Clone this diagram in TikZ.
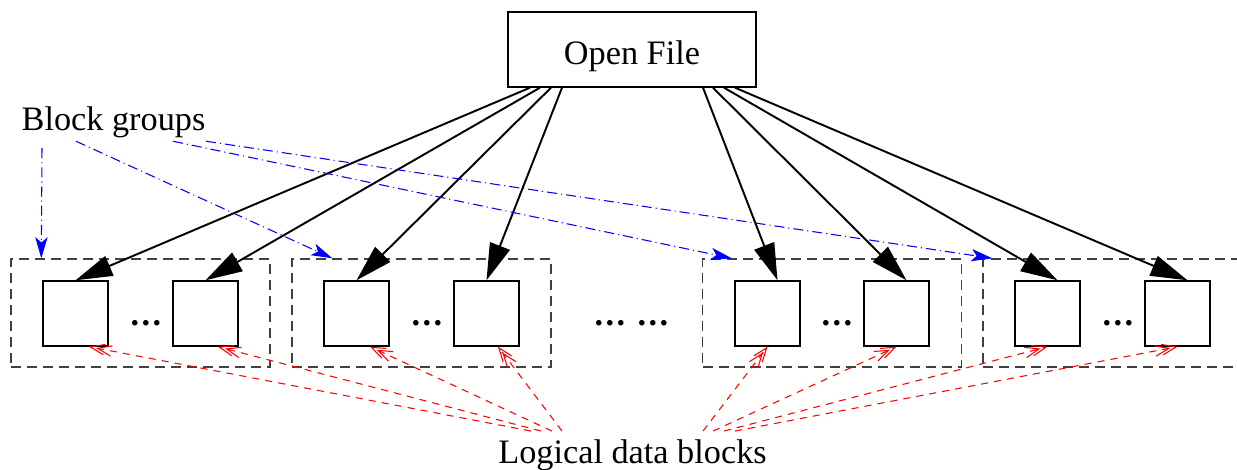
\documentclass[tikz,border=0pt]{standalone}
\usepackage{fontspec}
\setmainfont{Liberation Serif}
\usetikzlibrary{arrows.meta}
\newcommand{\bdots}{\textbf{.\kern1.4pt.\kern1.4pt.}}

\begin{document}
\begin{tikzpicture}[
  font=\fontsize{19.5}{23}\selectfont,
  lbl/.style={inner sep=0pt},
  filebox/.style={draw, line width=0.8pt, minimum width=4.96cm, minimum height=1.5cm,
    text height=0.6cm, text depth=0cm},
  blk/.style={draw, line width=0.8pt, minimum size=1.3cm, inner sep=0pt},
  grp/.style={draw=black!75, dash pattern=on 5.7pt off 3.4pt, line width=0.8pt,
    minimum width=5.18cm, minimum height=2.16cm, inner sep=0pt},
  ptr/.style={line width=1.1pt, -{Triangle[length=21pt,width=12pt]}},
  grparr/.style={blue, line width=0.6pt, dash pattern=on 5.7pt off 2.3pt on 0.6pt off 2.3pt,
    -{Stealth[length=12pt,width=7pt,inset=3pt]}},
  datarr/.style={red, line width=0.6pt, dash pattern=on 4pt off 3.5pt,
    -{Straight Barb[length=8pt,width=6pt,sep=-5pt]Straight Barb[length=8pt,width=6pt]}}
]
\useasboundingbox (0,0) rectangle (24.74,9.38);

\node[filebox] (file) at (12.64,8.39) {Open File};
\node[lbl, anchor=base, inner ysep=0.06cm] (bg) at (2.27,6.77) {Block groups};
\node[lbl, anchor=base, inner ysep=0.17cm] (lg) at (12.65,0.106) {Logical data blocks};

% block groups
\node[grp] (g1) at (2.81,3.12) {};
\node[grp] (g2) at (8.43,3.12) {};
\node[grp] (g3) at (16.64,3.12) {};
\node[grp] (g4) at (22.25,3.12) {};

% data blocks
\node[blk] (s1) at (1.51,3.11) {};
\node[blk] (s2) at (4.11,3.11) {};
\node[blk] (s3) at (7.13,3.11) {};
\node[blk] (s4) at (9.73,3.11) {};
\node[blk] (s5) at (15.35,3.11) {};
\node[blk] (s6) at (17.93,3.11) {};
\node[blk] (s7) at (20.95,3.11) {};
\node[blk] (s8) at (23.55,3.11) {};

\node[lbl, anchor=base] (d1) at (2.92,2.87) {\bdots};
\node[lbl, anchor=base] (d2) at (8.54,2.87) {\bdots};
\node[lbl, anchor=base] (d3) at (12.20,2.87) {\bdots};
\node[lbl, anchor=base] (d4) at (13.06,2.87) {\bdots};
\node[lbl, anchor=base] (d5) at (16.74,2.87) {\bdots};
\node[lbl, anchor=base] (d6) at (22.36,2.87) {\bdots};

% pointers from the open file
\draw[ptr] ([xshift=-2.04cm]file.south) -- (s1.north);
\draw[ptr] ([xshift=-1.84cm]file.south) -- (s2.north);
\draw[ptr] ([xshift=-1.62cm]file.south) -- (s3.north);
\draw[ptr] ([xshift=-1.40cm]file.south) -- (s4.north);
\draw[ptr] ([xshift=1.42cm]file.south) -- ([xshift=0.2cm]s5.north);
\draw[ptr] ([xshift=1.62cm]file.south) -- ([xshift=0.2cm]s6.north);
\draw[ptr] ([xshift=1.84cm]file.south) -- ([xshift=0.2cm]s7.north);
\draw[ptr] ([xshift=2.06cm]file.south) -- ([xshift=0.2cm]s8.north);

% labels
\draw[grparr] ([shift={(-1.43cm,-0.14cm)}]bg.south) -- ([xshift=0.62cm]g1.north west);
\draw[grparr] ([xshift=-0.75cm]bg.south) -- ([xshift=0.82cm]g2.north west);
\draw[grparr] ([xshift=1.19cm]bg.south) -- ([xshift=0.60cm]g3.north west);
\draw[grparr] ([xshift=1.85cm]bg.south) -- ([xshift=0.20cm]g4.north west);

\draw[datarr] ([xshift=-2.03cm]lg.north) -- ([xshift=0.27cm]s1.south);
\draw[datarr] ([xshift=-1.83cm]lg.north) -- ([xshift=0.25cm]s2.south);
\draw[datarr] ([xshift=-1.61cm]lg.north) -- ([xshift=0.27cm]s3.south);
\draw[datarr] ([xshift=-1.41cm]lg.north) -- ([xshift=0.23cm]s4.south);
\draw[datarr] ([xshift=1.41cm]lg.north) -- (s5.south);
\draw[datarr] ([xshift=1.61cm]lg.north) -- (s6.south);
\draw[datarr] ([xshift=1.83cm]lg.north) -- (s7.south);
\draw[datarr] ([xshift=2.05cm]lg.north) -- (s8.south);
\end{tikzpicture}
\end{document}
